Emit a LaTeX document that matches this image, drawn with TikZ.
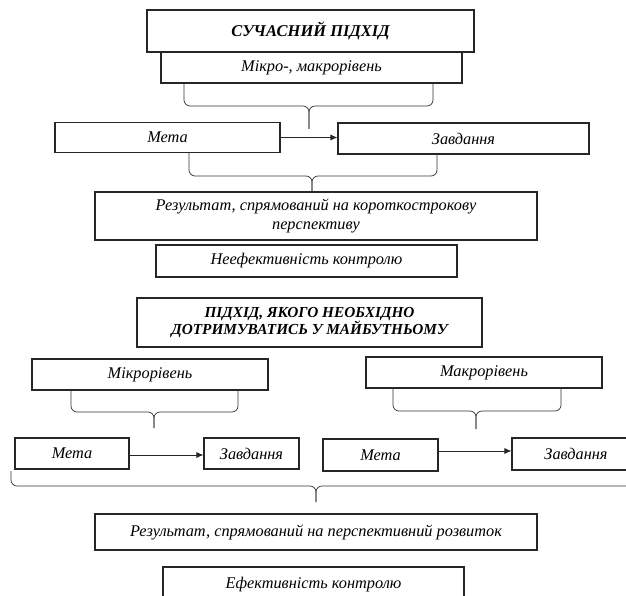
\documentclass[tikz,border=0pt]{standalone}
\usepackage{fontspec}
\setmainfont{Liberation Serif}
\usetikzlibrary{arrows.meta,calc}
\tikzset{
  box/.style={draw=black!85, line width=1.1pt, inner sep=0pt, align=center,
    font=\fontsize{16.3}{19}\selectfont\itshape},
  titlebox/.style={box, line width=1.3pt, font=\fontsize{16.5}{18}\selectfont\bfseries\itshape},
  titleboxb/.style={box, line width=1.3pt, font=\fontsize{15.3}{17}\selectfont\bfseries\itshape},
  brc/.style={draw=black!80, line width=0.7pt, rounded corners=6pt},
  arr/.style={draw=black!85, line width=0.8pt, -{Latex[length=7pt,width=6pt]}}
}
\begin{document}
\begin{tikzpicture}[x=1pt,y=-1pt]
\useasboundingbox (0,0) rectangle (626,596);
\clip (0,0) rectangle (626,596);
% top part
\node[titlebox, minimum width=327pt, minimum height=42pt] (b1) at (310.5,31) {СУЧАСНИЙ ПІДХІД};
\node[box, minimum width=301pt, minimum height=31pt] (b2) at (311.5,67.5) {Мікро-, макрорівень};
\node[box, minimum width=225pt, minimum height=30pt] (m1) at (167.5,137.5) {Мета};
\node[box, minimum width=251pt, minimum height=31pt] (z1) at (463.5,138.5) {Завдання};
\node[box, minimum width=442pt, minimum height=48pt] (r1) at (316,216) {Результат, спрямований на короткострокову\\перспективу};
\node[box, minimum width=301pt, minimum height=32pt] (n1) at (306.5,261) {Неефективність контролю};
% bottom part
\node[titleboxb, minimum width=345pt, minimum height=49pt] (p2) at (309.5,322.5) {ПІДХІД, ЯКОГО НЕОБХІДНО\\ДОТРИМУВАТИСЬ У МАЙБУТНЬОМУ};
\node[box, minimum width=236pt, minimum height=31pt] (mi) at (150,374.5) {Мікрорівень};
\node[box, minimum width=236pt, minimum height=31pt] (ma) at (484,372.5) {Макрорівень};
\node[box, minimum width=114pt, minimum height=31pt] (m2a) at (72,453.5) {Мета};
\node[box, minimum width=95pt, minimum height=31pt] (z2a) at (251.5,453.5) {Завдання};
\node[box, minimum width=115pt, minimum height=32pt] (m2b) at (380.5,455) {Мета};
\node[box, minimum width=128pt, minimum height=32pt] (z2b) at (576,454) {Завдання};
\node[box, minimum width=442pt, minimum height=36pt] (r2) at (316,532) {Результат, спрямований на перспективний розвиток};
\node[box, minimum width=301pt, minimum height=36pt] (e2) at (313.5,585) {Ефективність контролю};
% arrows
\draw[arr] (m1.east) -- (m1.east -| z1.west);
\draw[arr] (m2a.east |- 0,455) -- (z2a.west |- 0,455);
\draw[arr] (m2b.east |- 0,451) -- (z2b.west |- 0,451);
% braces
\coordinate (t1) at (309,129);
\draw[brc] (184,83) -- (184,106) -- (t1 |- 0,106) -- (t1);
\draw[brc] (433,83) -- (433,106) -- (t1 |- 0,106) -- (t1);
\coordinate (t2) at (312,192);
\draw[brc] (189,153) -- (189,176) -- (t2 |- 0,176) -- (t2);
\draw[brc] (437,154) -- (437,176) -- (t2 |- 0,176) -- (t2);
\coordinate (t3) at (154,428);
\draw[brc] (71,390) -- (71,412) -- (t3 |- 0,412) -- (t3);
\draw[brc] (238,390) -- (238,412) -- (t3 |- 0,412) -- (t3);
\coordinate (t4) at (476,429);
\draw[brc] (393,388) -- (393,411) -- (t4 |- 0,411) -- (t4);
\draw[brc] (561,388) -- (561,411) -- (t4 |- 0,411) -- (t4);
\coordinate (t5) at (316,502);
\draw[brc] (11,471) -- (11,486) -- (t5 |- 0,486) -- (t5);
\draw[brc] (640,486) -- (t5 |- 0,486) -- (t5);
\end{tikzpicture}
\end{document}
